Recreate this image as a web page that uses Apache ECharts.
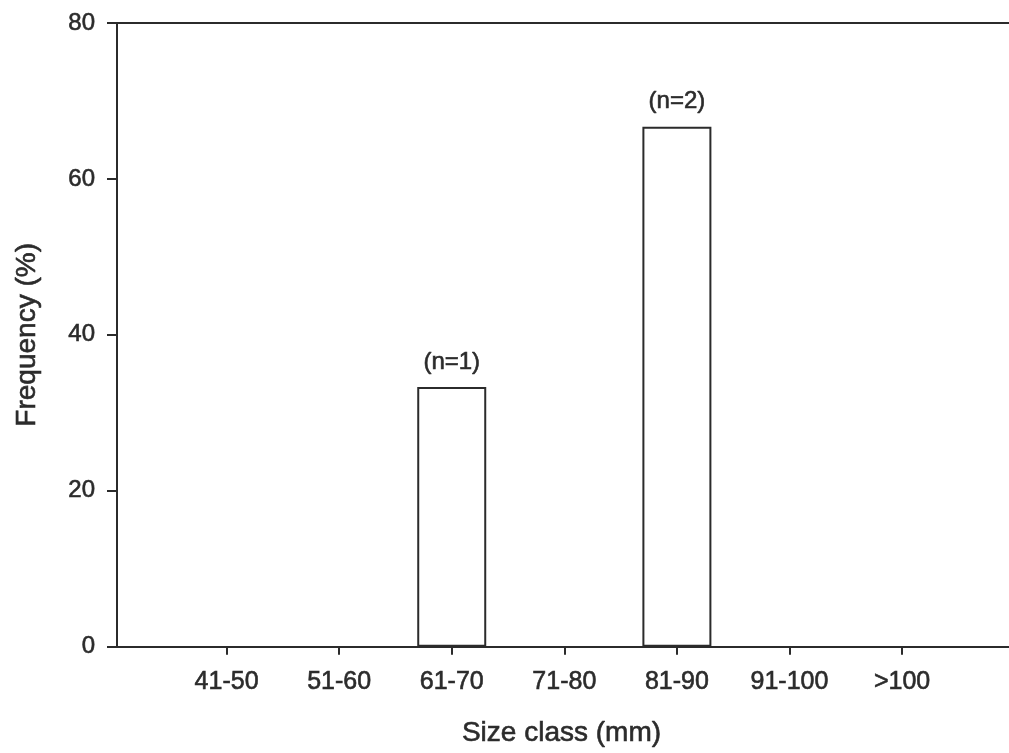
<!DOCTYPE html>
<html>
<head>
<meta charset="utf-8">
<script src="https://cdn.jsdelivr.net/npm/echarts@6/dist/echarts.min.js"></script>
<style>
  html, body { margin: 0; padding: 0; background: #ffffff; }
  #chart { width: 1009px; height: 753px; }
</style>
</head>
<body>
<div id="chart"></div>
<script>
// Size classes (mm) placed at positions 1..7 on the horizontal axis
const sizeClasses = ['41-50', '51-60', '61-70', '71-80', '81-90', '91-100', '>100'];
// Frequency (%) per size class
const frequency = [0, 0, 33.3, 0, 66.7, 0, 0];
// Sample counts shown above bars
const counts = [0, 0, 1, 0, 2, 0, 0];
const yTicks = [0, 20, 40, 60, 80];

const FONT = '"Liberation Sans", Arial, Helvetica, sans-serif';
const INK = '#2b2b2b';
// slightly heavier text strokes, like printed type
const inkText = (size) => ({
  fontFamily: FONT, fontSize: size, color: INK,
  textBorderColor: INK, textBorderWidth: 0.6
});

const barData = [];
sizeClasses.forEach((name, i) => {
  if (frequency[i] > 0) {
    barData.push({ value: [i + 1, frequency[i]], n: counts[i] });
  }
});

const chart = echarts.init(document.getElementById('chart'), null, { renderer: 'canvas' });
chart.setOption({
  animation: false,
  backgroundColor: '#ffffff',
  grid: { left: 114, right: 0, top: 23, bottom: 106, containLabel: false },
  xAxis: [
    {
      type: 'value', min: 0, max: 7.95, interval: 1,
      name: 'Size class (mm)', nameLocation: 'middle', nameGap: 73,
      nameTextStyle: inkText(28),
      axisLine: { lineStyle: { color: INK, width: 2 } },
      axisTick: { show: true, length: 8, lineStyle: { color: INK, width: 2 } },
      axisLabel: Object.assign(inkText(25), {
        margin: 23,
        showMinLabel: false, showMaxLabel: false,
        formatter: v => (Number.isInteger(v) && sizeClasses[v - 1]) || ''
      }),
      splitLine: { show: false }
    },
    {
      type: 'value', min: 0, max: 7.95, position: 'top',
      axisLine: { show: true, lineStyle: { color: INK, width: 2 } },
      axisTick: { show: false }, axisLabel: { show: false }, splitLine: { show: false }
    }
  ],
  yAxis: {
    type: 'value', min: yTicks[0], max: yTicks[yTicks.length - 1], interval: 20,
    offset: -3,
    name: 'Frequency (%)', nameLocation: 'middle', nameGap: 76, nameRotate: 90,
    nameTextStyle: inkText(28),
    axisLine: { show: true, lineStyle: { color: INK, width: 2 } },
    axisTick: { show: true, inside: false, length: 10, lineStyle: { color: INK, width: 2 } },
    axisLabel: Object.assign(inkText(24), { margin: 22 }),
    splitLine: { show: false }
  },
  series: [{
    type: 'bar',
    xAxisIndex: 0,
    barWidth: 69,
    data: barData,
    itemStyle: { color: '#ffffff', borderColor: INK, borderWidth: 2 },
    label: Object.assign(inkText(24), {
      show: true, position: 'top', distance: 13,
      formatter: p => '(n=' + p.data.n + ')'
    })
  }]
});
</script>
</body>
</html>
